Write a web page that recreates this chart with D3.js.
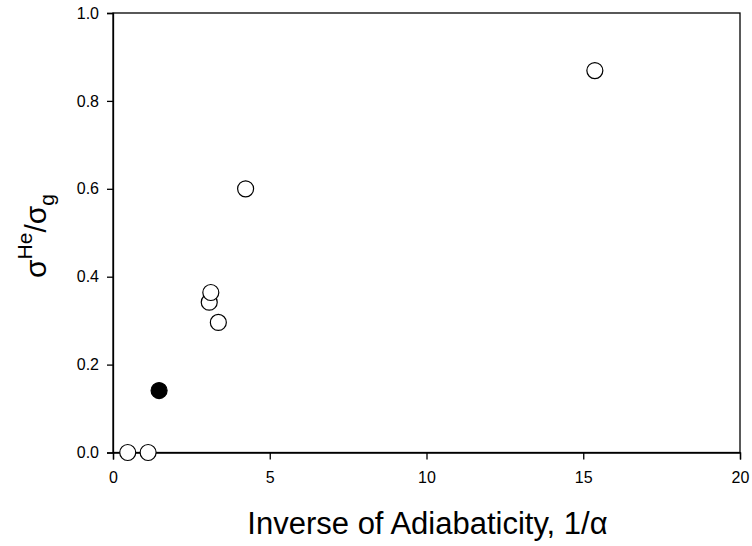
<!DOCTYPE html>
<html><head><meta charset="utf-8">
<script src="https://cdn.jsdelivr.net/npm/d3@7"></script>
<style>body{margin:0;background:#fff}text{font-family:"Liberation Sans",Arial,sans-serif}</style>
</head><body><svg id="c" width="752" height="546"></svg>
<script>
const openX = [0.47, 1.12, 3.07, 3.12, 3.36, 4.23, 15.37];
const openY = [0.0, 0.0, 0.342, 0.364, 0.296, 0.600, 0.869];
const filledX = [1.47];
const filledY = [0.141];
const xTicks = [0, 5, 10, 15, 20];
const yTicks = [0.0, 0.2, 0.4, 0.6, 0.8, 1.0];

const svg = d3.select("#c");
const L = 113, R = 740, T = 13, B = 452.5;
const x = d3.scaleLinear().domain([0, 20]).range([L, R]);
const y = d3.scaleLinear().domain([0, 1]).range([B, T]);

svg.append("rect").attr("x", L).attr("y", T).attr("width", R - L).attr("height", B - T)
  .attr("fill", "none").attr("stroke", "#000").attr("stroke-width", 1.3);

const xa = svg.append("g").attr("transform", `translate(0,${B})`)
  .call(d3.axisBottom(x).tickValues(xTicks).tickSize(7).tickPadding(12).tickFormat(d3.format("d")));
const ya = svg.append("g").attr("transform", `translate(${L},0)`)
  .call(d3.axisLeft(y).tickValues(yTicks).tickSize(6).tickPadding(8).tickFormat(d3.format(".1f")));
[xa, ya].forEach(g => {
  g.attr("font-size", 16).attr("font-family", "Liberation Sans, Arial, sans-serif");
  g.select(".domain").attr("stroke-width", 1.3);
  g.selectAll(".tick line").attr("stroke-width", 1.3);
  g.selectAll("text").attr("font-size", 16).attr("fill", "#000");
});

svg.append("g").selectAll("circle").data(openX.map((v, i) => [v, openY[i]])).join("circle")
  .attr("cx", d => x(d[0])).attr("cy", d => y(d[1])).attr("r", 8)
  .attr("fill", "#fff").attr("stroke", "#000").attr("stroke-width", 1.2);
svg.append("g").selectAll("circle").data(filledX.map((v, i) => [v, filledY[i]])).join("circle")
  .attr("cx", d => x(d[0])).attr("cy", d => y(d[1])).attr("r", 8)
  .attr("fill", "#000").attr("stroke", "#000").attr("stroke-width", 1.2);

svg.append("text").attr("x", (L + R) / 2 + 1).attr("y", 534).attr("text-anchor", "middle")
  .attr("font-size", 31).attr("fill", "#000").text("Inverse of Adiabaticity, 1/α");

const yl = svg.append("text").attr("transform", "translate(46,236) rotate(-90)")
  .attr("text-anchor", "middle").attr("font-size", 30).attr("fill", "#000");
yl.append("tspan").text("σ");
yl.append("tspan").attr("font-size", 21).attr("dy", -14).text("He");
yl.append("tspan").attr("dy", 14).text("/σ");
yl.append("tspan").attr("font-size", 21).attr("dy", 8).text("g");
</script></body></html>
